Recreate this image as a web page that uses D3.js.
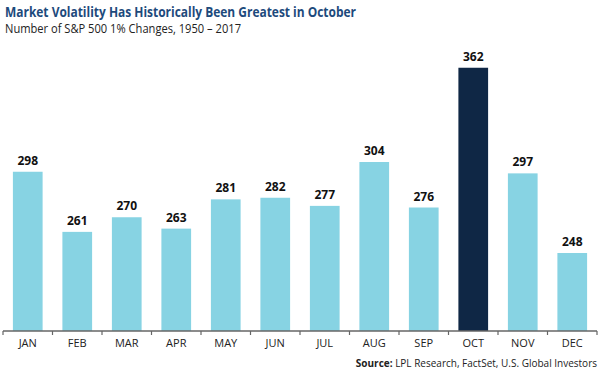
<!DOCTYPE html>
<html>
<head>
<meta charset="utf-8">
<script src="https://cdn.jsdelivr.net/npm/d3@7"></script>
<style>
  body { margin: 0; background: #fff; }
  text { font-family: "Open Sans", "Liberation Sans", sans-serif; }
</style>
</head>
<body>
<div id="chart"></div>
<script>
'use strict';

var months = ['JAN', 'FEB', 'MAR', 'APR', 'MAY', 'JUN', 'JUL', 'AUG', 'SEP', 'OCT', 'NOV', 'DEC'];
var changes = [298, 261, 270, 263, 281, 282, 277, 304, 276, 362, 297, 248];
var highlight = 'OCT';

var width = 600, height = 374;
var margins = { left: 3, right: 3, top: 6, bottom: 43 };

var svg = d3.select('#chart').append('svg')
  .attr('width', width)
  .attr('height', height);

var x = d3.scaleBand()
  .domain(months)
  .range([margins.left, width - margins.right])
  .paddingInner(0.4)
  .paddingOuter(0.2);

var y = d3.scaleLinear()
  .domain([200, 400])
  .range([height - margins.bottom, margins.top]);

var data = months.map(function(m, i) {
  return { month: m, value: changes[i] };
});

// title
svg.append('text')
  .attr('x', 5)
  .attr('y', 17)
  .attr('fill', '#1d4a7c')
  .attr('font-size', 15)
  .attr('font-weight', 'bold')
  .attr('textLength', 351)
  .attr('lengthAdjust', 'spacingAndGlyphs')
  .text('Market Volatility Has Historically Been Greatest in October');

svg.append('text')
  .attr('x', 5)
  .attr('y', 33)
  .attr('fill', '#222')
  .attr('font-size', 12)
  .attr('textLength', 236)
  .attr('lengthAdjust', 'spacingAndGlyphs')
  .text('Number of S&P 500 1% Changes, 1950 \u2013 2017');

// bars
svg.append('g')
  .selectAll('rect')
  .data(data)
  .enter().append('rect')
  .attr('x', function(d) { return x(d.month); })
  .attr('y', function(d) { return y(d.value); })
  .attr('width', x.bandwidth())
  .attr('height', function(d) { return y(200) - y(d.value); })
  .attr('fill', function(d) { return d.month === highlight ? '#0f2745' : '#87d3e3'; });

// value labels
svg.append('g')
  .selectAll('text')
  .data(data)
  .enter().append('text')
  .attr('x', function(d) { return x(d.month) + x.bandwidth() / 2; })
  .attr('y', function(d) { return y(d.value) - 7; })
  .attr('text-anchor', 'middle')
  .attr('font-size', 12)
  .attr('font-weight', 'bold')
  .attr('fill', '#111')
  .text(function(d) { return d.value; });

// x axis: ticks between bands
var axisY = y(200);
var axis = svg.append('g');
axis.append('line')
  .attr('x1', margins.left)
  .attr('x2', width - margins.right)
  .attr('y1', axisY)
  .attr('y2', axisY)
  .attr('stroke', '#666')
  .attr('stroke-width', 1.5);

var bounds = d3.range(months.length + 1).map(function(i) {
  return margins.left + i * x.step();
});
axis.selectAll('line.tick')
  .data(bounds)
  .enter().append('line')
  .attr('class', 'tick')
  .attr('x1', function(d) { return d; })
  .attr('x2', function(d) { return d; })
  .attr('y1', axisY)
  .attr('y2', axisY + 4)
  .attr('stroke', '#666')
  .attr('stroke-width', 1.2);

axis.selectAll('text')
  .data(months)
  .enter().append('text')
  .attr('x', function(d) { return x(d) + x.bandwidth() / 2; })
  .attr('y', axisY + 16)
  .attr('text-anchor', 'middle')
  .attr('font-size', 11)
  .attr('fill', '#222')
  .text(function(d) { return d; });

// source
var src = svg.append('text')
  .attr('x', width - 3)
  .attr('y', 367)
  .attr('text-anchor', 'end')
  .attr('font-size', 10)
  .attr('fill', '#222');
src.append('tspan').attr('font-weight', 'bold').text('Source: ');
src.append('tspan').text('LPL Research, FactSet, U.S. Global Investors');
</script>
</body>
</html>
